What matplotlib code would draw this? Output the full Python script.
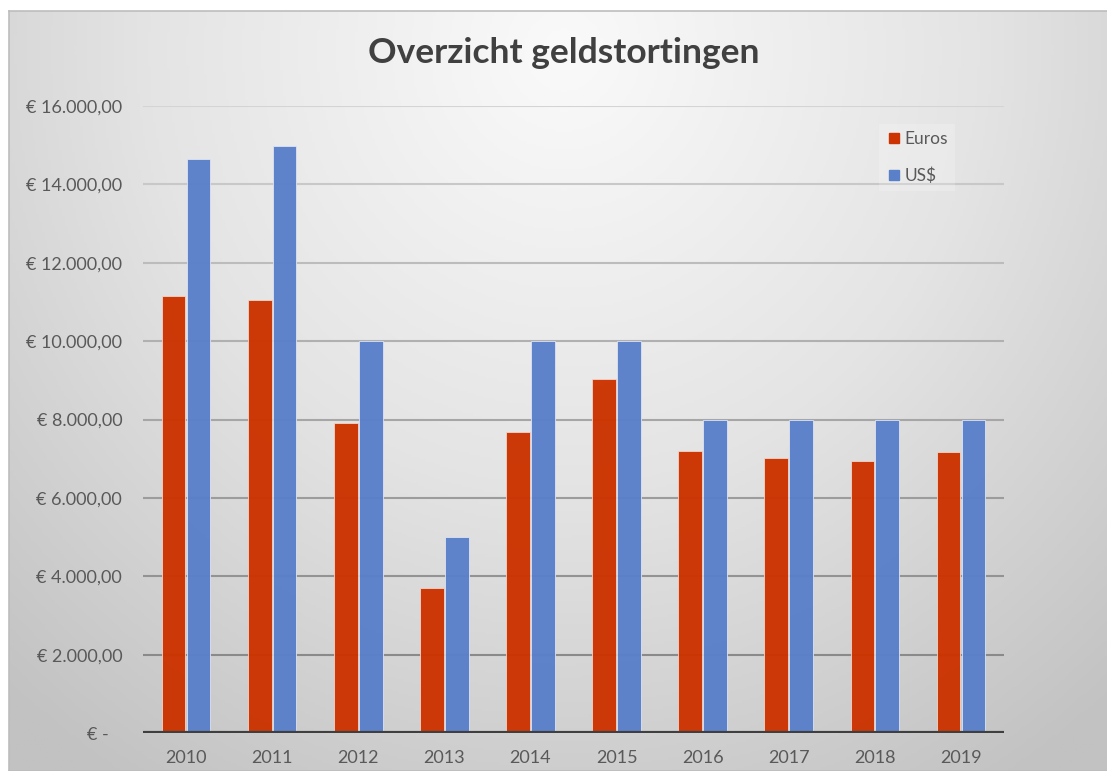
import numpy as np
import matplotlib
matplotlib.use('Agg')
import matplotlib.pyplot as plt
import matplotlib.colors as mcolors
from matplotlib.lines import Line2D

years = ['2010', '2011', '2012', '2013', '2014', '2015', '2016', '2017', '2018', '2019']
euros = [11150, 11060, 7900, 3700, 7690, 9040, 7190, 7010, 6950, 7170]
dollars = [14650, 14980, 10000, 5000, 10000, 10000, 8000, 8000, 8000, 8000]
y_ticks = [0, 2000, 4000, 6000, 8000, 10000, 12000, 14000, 16000]

W, H = 1107, 771
plt.rcParams['font.family'] = ['Lato', 'DejaVu Sans']

fig = plt.figure(figsize=(W / 100, H / 100), dpi=100)
fig.patch.set_facecolor('white')

# radial grey gradient behind the chart (Excel style)
bg = fig.add_axes([9 / W, 0, 1 - 9 / W + 0.01, (H - 11) / H], zorder=0)
gx, gy = np.meshgrid(np.linspace(0, 1, 400), np.linspace(0, 1, 300))
r = np.sqrt(((gx - 0.5) / 0.75) ** 2 + ((gy - 0.05) / 1.15) ** 2)
shade = np.clip(r, 0, 1)
cmap = mcolors.LinearSegmentedColormap.from_list('bg', ['#fafafa', '#e4e4e4', '#c2c2c2'])
bg.imshow(shade, cmap=cmap, aspect='auto', extent=[0, 1, 0, 1], origin='upper', vmin=0, vmax=1)
bg.set_xlim(0, 1)
bg.set_ylim(0, 1)
for s in bg.spines.values():
    s.set_color('#bdbdbd')
    s.set_linewidth(1.2)
bg.set_xticks([])
bg.set_yticks([])

ax = fig.add_axes([143 / W, (H - 733) / H, (1004 - 143) / W, (733 - 106) / H], zorder=1)
ax.patch.set_alpha(0)

x = np.arange(len(years))
bw = 0.275
ax.bar(x - 0.145, euros, bw, color='#cc3300', edgecolor='#f2d8cc', linewidth=0.6, alpha=0.97, zorder=2, label='Euros')
ax.bar(x + 0.145, dollars, bw, color='#5a80ca', edgecolor='#dfe6f4', linewidth=0.6, alpha=0.97, zorder=2, label='US$')

ax.set_xlim(-0.5, len(years) - 0.5)
ax.set_ylim(0, 16000)

# gridlines getting darker towards the bottom
grid_cols = ['#3f3f3f', '#8a8a8a', '#939393', '#9c9c9c', '#a6a6a6', '#b0b0b0', '#bcbcbc', '#c8c8c8', '#d4d4d4']
for v, c in zip(y_ticks, grid_cols):
    if v == 0:
        ax.axhline(v, color=c, linewidth=3, zorder=3)
    else:
        ax.axhline(v, color=c, linewidth=1.5, zorder=1)

def eur(v):
    if v == 0:
        return '€ -   '
    s = f"{v:,.2f}".replace(',', 'X').replace('.', ',').replace('X', '.')
    return '€ ' + s

ax.set_yticks(y_ticks)
ax.set_yticklabels([eur(v) for v in y_ticks])
ax.set_xticks(x)
ax.set_xticklabels(years)
ax.tick_params(axis='y', length=0, pad=15, labelsize=13, labelcolor='#595959')
ax.tick_params(axis='x', length=0, pad=12, labelsize=13, labelcolor='#595959')
for s in ax.spines.values():
    s.set_visible(False)

fig.text(564 / W, 1 - 53 / H, 'Overzicht geldstortingen', ha='center', va='center',
         fontsize=25.5, fontweight='bold', color='#404040')

handles = [Line2D([], [], marker='s', linestyle='none', markersize=7, color='#cc3300'),
           Line2D([], [], marker='s', linestyle='none', markersize=7, color='#5a80ca')]
leg = fig.legend(handles, ['Euros', 'US$'], loc='upper left', bbox_to_anchor=(870 / W, 1 - 115 / H),
                 frameon=True, fontsize=12.5, labelspacing=1.2, handletextpad=0.1, handlelength=1.0,
                 borderpad=0.4, labelcolor='#595959')
leg.get_frame().set_facecolor('white')
leg.get_frame().set_alpha(0.2)
leg.get_frame().set_edgecolor('none')
leg.get_frame().set_boxstyle('square', pad=0)

fig.savefig('out.png', dpi=100)
